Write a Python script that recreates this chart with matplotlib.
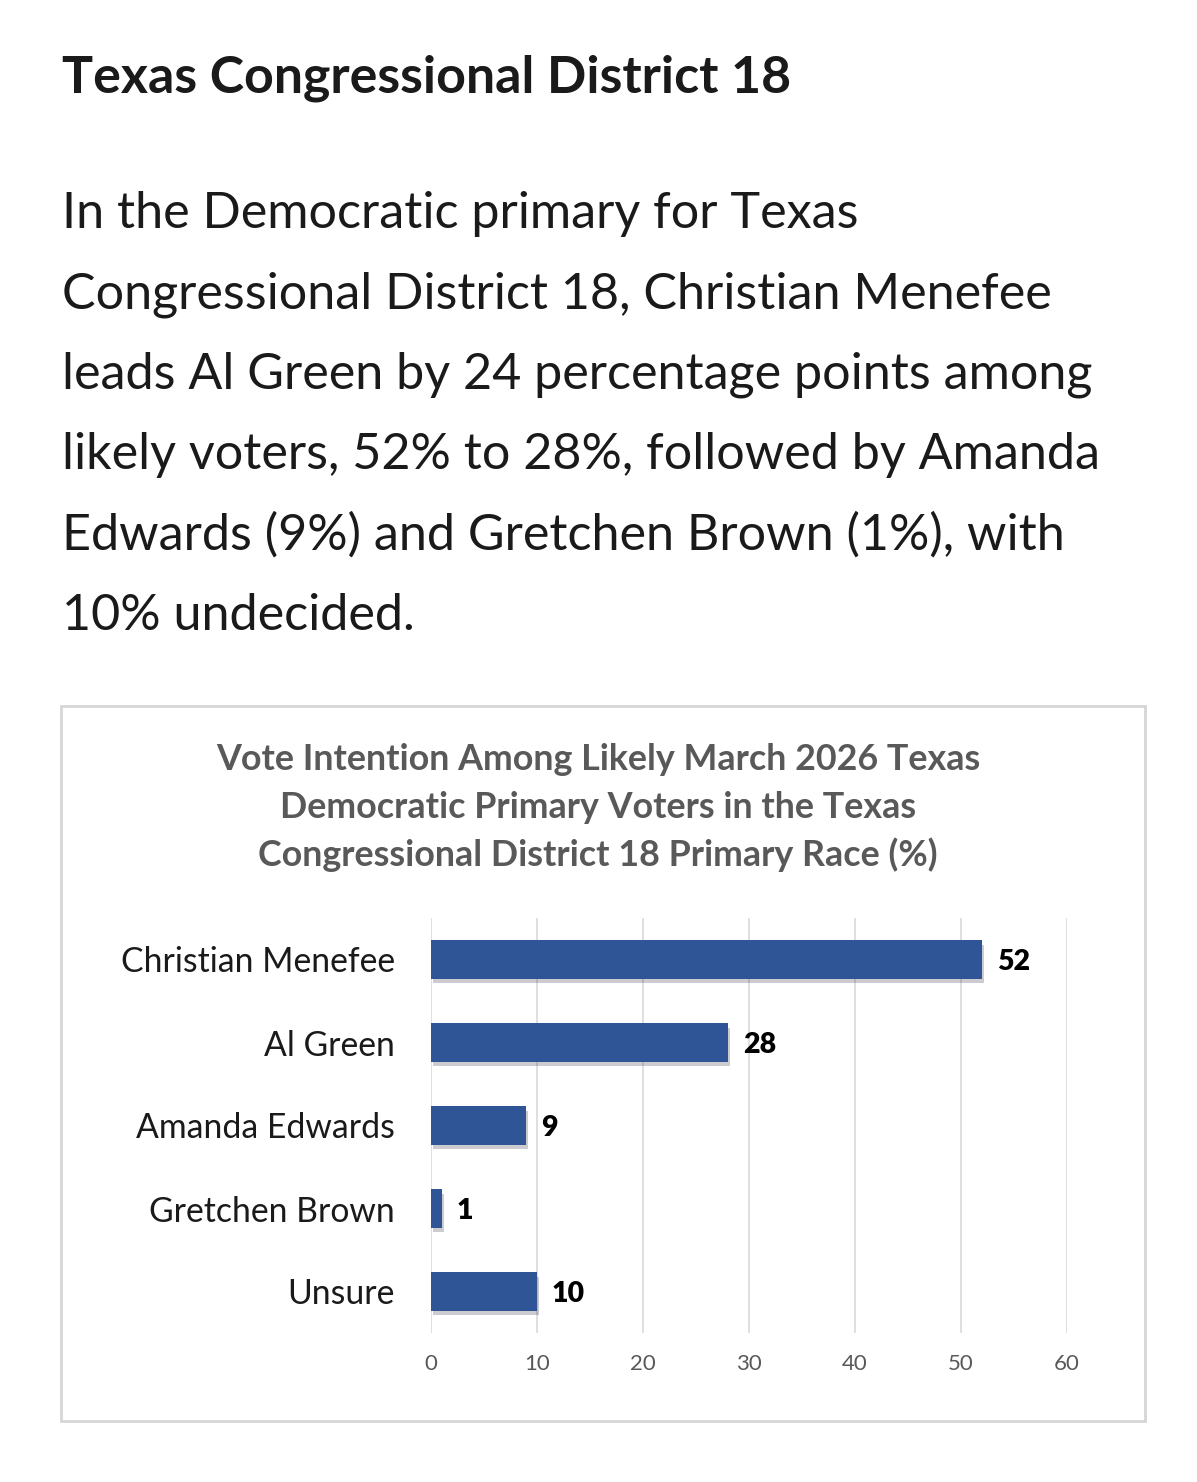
import matplotlib
matplotlib.use("Agg")
import matplotlib.pyplot as plt
from matplotlib.patches import Rectangle
import matplotlib.patheffects as pe

categories = ["Christian Menefee", "Al Green", "Amanda Edwards", "Gretchen Brown", "Unsure"]
values = [52, 28, 9, 1, 10]
xticks = [0, 10, 20, 30, 40, 50, 60]

headline = "Texas Congressional District 18"
body_lines = [
    "In the Democratic primary for Texas",
    "Congressional District 18, Christian Menefee",
    "leads Al Green by 24 percentage points among",
    "likely voters, 52% to 28%, followed by Amanda",
    "Edwards (9%) and Gretchen Brown (1%), with",
    "10% undecided.",
]
chart_title = ["Vote Intention Among Likely March 2026 Texas",
               "Democratic Primary Voters in the Texas",
               "Congressional District 18 Primary Race (%)"]

W, H = 1197, 1482
fig = plt.figure(figsize=(W / 100, H / 100), dpi=100)
fig.patch.set_facecolor("white")

def fy(py):
    return 1 - py / H

def fx(px):
    return px / W

fig.text(fx(62), fy(92), headline, fontsize=37.4, fontweight="bold", family="Lato",
         color="#1a1a1a", va="baseline", ha="left")
base = 228
for i, line in enumerate(body_lines):
    fig.text(fx(62), fy(base + i * 80.5), line, fontsize=36.2, family="Lato",
             color="#1a1a1a", va="baseline", ha="left")

# chart frame
fig.patches.append(Rectangle((fx(61), fy(1421)), fx(1145) - fx(61), fy(706) - fy(1421),
                             transform=fig.transFigure, fill=False, edgecolor="#d6d6d6",
                             linewidth=2))

for i, line in enumerate(chart_title):
    fig.text(fx(598), fy(770 + i * 48), line, fontsize=25.8, fontweight="bold",
             family="Lato", color="#595959", va="baseline", ha="center")

ax = fig.add_axes([fx(431), fy(1333), fx(1067) - fx(431), fy(918) - fy(1333)])
ypos = list(range(len(categories)))
bars = ax.barh(ypos, values, height=0.46, color="#2F5597", zorder=3)
for b in bars:
    b.set_path_effects([pe.SimplePatchShadow(offset=(1.5, -3), shadow_rgbFace="#1a1a2a", alpha=0.22),
                        pe.Normal()])
ax.set_xlim(0, 60)
ax.set_ylim(len(categories) - 0.5, -0.5)
ax.set_xticks(xticks)
ax.set_xticklabels([str(t) for t in xticks], family="Lato", fontsize=16, color="#595959")
ax.set_yticks(ypos)
ax.set_yticklabels(categories, family="Lato", fontsize=24.3, color="#1a1a1a")
ax.tick_params(axis="both", length=0)
ax.tick_params(axis="y", pad=26)
ax.tick_params(axis="x", pad=15)
ax.grid(axis="x", color="#d9d9d9", linewidth=1.2, zorder=0)
for s in ax.spines.values():
    s.set_visible(False)
for y, v in zip(ypos, values):
    ax.annotate(str(v), (v, y), xytext=(15, 0), textcoords="offset pixels",
                va="center_baseline", ha="left", fontsize=20.5, fontweight="heavy",
                family="Lato", color="#000000")

fig.savefig("out.png", dpi=100, facecolor="white")
